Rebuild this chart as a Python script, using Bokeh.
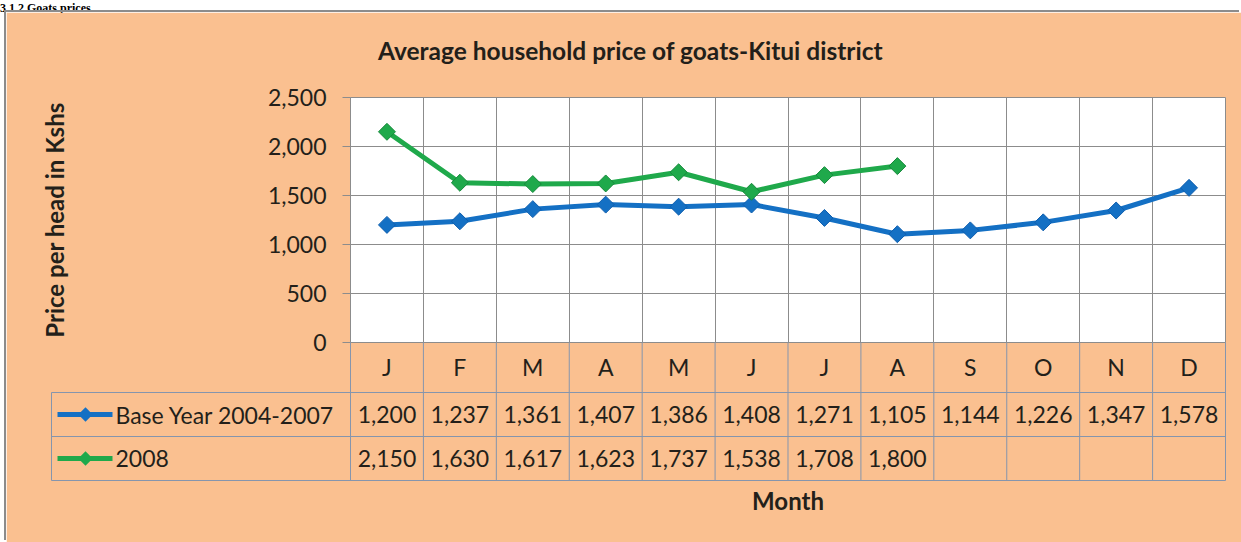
from bokeh.plotting import figure
from bokeh.models import Range1d, FixedTicker, NumeralTickFormatter, Div, Spacer
from bokeh.layouts import column, row
from bokeh.core.properties import value
from bokeh.embed import file_html
from bokeh.resources import INLINE
import math

# ---- data ----
months = ["J", "F", "M", "A", "M", "J", "J", "A", "S", "O", "N", "D"]
base_year = [1200, 1237, 1361, 1407, 1386, 1408, 1271, 1105, 1144, 1226, 1347, 1578]
year_2008 = [2150, 1630, 1617, 1623, 1737, 1538, 1708, 1800]
series_names = ["Base Year 2004-2007", "2008"]
y_ticks = [0, 500, 1000, 1500, 2000, 2500]
section_heading = "3.1.2 Goats prices"
chart_title = "Average household price of goats-Kitui district"
y_title = "Price per head in Kshs"
x_title = "Month"

# ---- style ----
PEACH = "#FAC090"
BLUE = "#1470C4"
BLUE_D = "#0E5EAE"
GREEN = "#1FA94B"
GREEN_D = "#178A3C"
GRID = "#8C8C8C"
TABLE = "#8595AD"
TEXT = "#231F1A"
FONT = "Lato"
REG = "23px"
BOLD = "24px"

W, H = 1235, 530
FL, FR, FT, FB = 344, 16, 85, 200
FW, FH = W - FL - FR, H - FT - FB

p = figure(width=W, height=H, output_backend="svg", toolbar_location=None,
           x_range=Range1d(0, len(months)), y_range=Range1d(0, y_ticks[-1]),
           min_border_left=FL, min_border_right=FR, min_border_top=FT, min_border_bottom=FB)
p.extra_x_ranges = {"px": Range1d(0, FW)}
p.extra_y_ranges = {"px": Range1d(0, FH)}
p.styles = {"box-shadow": "-2px -2px 0 0 #8C8C8C"}

p.background_fill_color = "white"
p.border_fill_color = PEACH
p.outline_line_color = GRID
p.outline_line_width = 1

# y axis
ya = p.yaxis[0]
ya.ticker = FixedTicker(ticks=y_ticks)
ya.formatter = NumeralTickFormatter(format="0,0")
ya.major_tick_out = 8
ya.major_tick_in = 0
ya.minor_tick_out = 0
ya.minor_tick_in = 0
ya.major_tick_line_color = GRID
ya.axis_line_color = GRID
ya.major_label_text_font = FONT
ya.major_label_text_font_size = REG
ya.major_label_text_color = TEXT
ya.major_label_standoff = 16
ya.axis_label = y_title
ya.axis_label_text_font = FONT
ya.axis_label_text_font_style = "bold"
ya.axis_label_text_font_size = BOLD
ya.axis_label_text_color = TEXT
ya.axis_label_standoff = 196

# x axis: month header row
xs = [i + 0.5 for i in range(len(months))]
xa = p.xaxis[0]
xa.ticker = FixedTicker(ticks=xs)
xa.major_label_overrides = {x: m for x, m in zip(xs, months)}
xa.major_tick_out = 0
xa.major_tick_in = 0
xa.minor_tick_out = 0
xa.minor_tick_in = 0
xa.axis_line_color = GRID
xa.major_label_text_font = FONT
xa.major_label_text_font_size = REG
xa.major_label_text_color = TEXT
xa.major_label_standoff = 10
xa.axis_label = x_title
xa.axis_label_text_font = FONT
xa.axis_label_text_font_style = "bold"
xa.axis_label_text_font_size = BOLD
xa.axis_label_text_color = TEXT
xa.axis_label_standoff = 102

# grids
p.ygrid.grid_line_color = GRID
p.ygrid.grid_line_width = 1
p.xgrid.ticker = FixedTicker(ticks=list(range(len(months) + 1)))
p.xgrid.grid_line_color = GRID
p.xgrid.grid_line_width = 1

# series
p.line(xs, base_year, line_color=BLUE, line_width=5)
p.scatter(xs, base_year, marker="square", angle=math.pi / 4, size=12,
          fill_color=BLUE, line_color=BLUE_D, line_width=1)
xs8 = xs[:len(year_2008)]
p.line(xs8, year_2008, line_color=GREEN, line_width=5)
p.scatter(xs8, year_2008, marker="square", angle=math.pi / 4, size=12,
          fill_color=GREEN, line_color=GREEN_D, line_width=1)

# ---- data table below the plot (pixel offsets below the frame bottom) ----
ROW_HDR, ROW1, ROW2 = -50, -94, -138
LEG_LEFT = -299

p.segment(x0=list(range(len(months) + 1)), y0=[0] * (len(months) + 1),
          x1=list(range(len(months) + 1)), y1=[ROW2] * (len(months) + 1),
          y_range_name="px", line_color=TABLE, line_width=1, level="overlay")
p.segment(x0=[LEG_LEFT] * 3, y0=[ROW_HDR, ROW1, ROW2], x1=[FW] * 3, y1=[ROW_HDR, ROW1, ROW2],
          x_range_name="px", y_range_name="px", line_color=TABLE, line_width=1, level="overlay")
p.segment(x0=[LEG_LEFT], y0=[ROW_HDR], x1=[LEG_LEFT], y1=[ROW2],
          x_range_name="px", y_range_name="px", line_color=TABLE, line_width=1, level="overlay")


def fmt(v):
    return f"{v:,}"


row_mid = [(ROW_HDR + ROW1) / 2, (ROW1 + ROW2) / 2]
for vals, ym in zip([base_year, year_2008], row_mid):
    p.text(x=xs[:len(vals)], y=[ym] * len(vals), text=[fmt(v) for v in vals],
           y_range_name="px", text_font=value(FONT), text_font_size=REG,
           text_color=TEXT, text_align="center", text_baseline="middle", level="overlay")

# legend keys inside the table's first column (line + diamond + label)
KEY_X0, KEY_X1, KEY_MID, LABEL_X = -293, -238, -265, -235
for name, col, ym in zip(series_names, [BLUE, GREEN], row_mid):
    p.segment(x0=[KEY_X0], y0=[ym], x1=[KEY_X1], y1=[ym], x_range_name="px", y_range_name="px",
              line_color=col, line_width=5, level="overlay")
    # a short diagonal stroke as wide as it is long draws a diamond
    p.segment(x0=[KEY_MID - 3.6], y0=[ym - 3.6], x1=[KEY_MID + 3.6], y1=[ym + 3.6],
              x_range_name="px", y_range_name="px", line_color=col, line_width=10.2,
              line_cap="butt", level="overlay")
    p.text(x=[LABEL_X], y=[ym], text=[name], x_range_name="px", y_range_name="px",
           text_font=value(FONT), text_font_size=REG, text_color=TEXT,
           text_align="left", text_baseline="middle", level="overlay")

# chart title
p.text(x=[280], y=[FH + 47], text=[chart_title], x_range_name="px", y_range_name="px",
       text_font=value(FONT), text_font_size="24.5px", text_font_style="bold",
       text_color=TEXT, text_align="center", text_baseline="middle", level="overlay")

# section heading above the chart
heading = Div(
    text=('<div style="font-family: \'Liberation Serif\'; font-weight: bold; font-size: 12px; '
          'line-height: 12px; white-space: nowrap;">' + section_heading + '</div>'),
    width=W + 6, height=12, margin=(0, 0, 0, 0))

layout = column(heading, row(Spacer(width=6, height=H, margin=(0, 0, 0, 0)), p))

open("out.html", "w").write(file_html(layout, INLINE))
